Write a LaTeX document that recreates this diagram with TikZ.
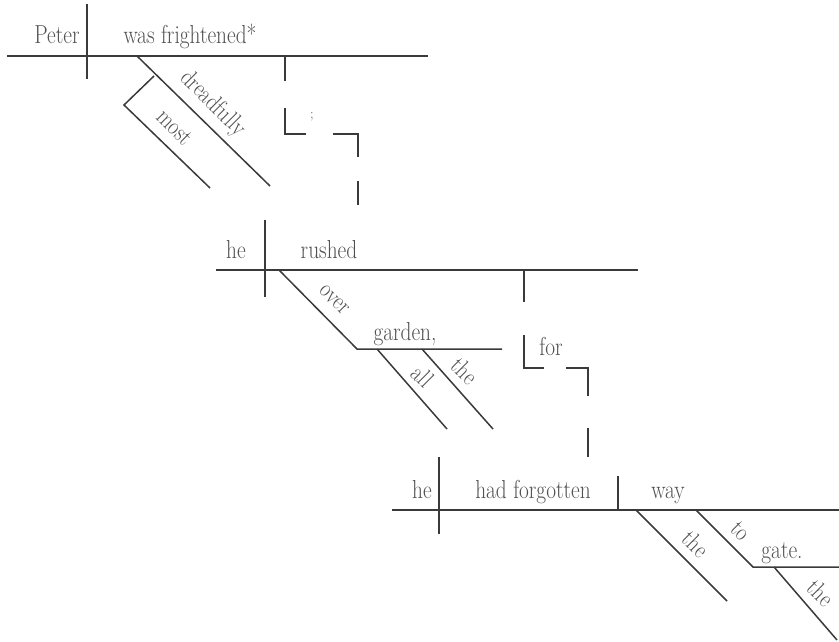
\documentclass[tikz,border=0pt]{standalone}
\usepackage{fontspec}
\setmainfont{Latin Modern Roman}[FakeStretch=0.82]
\definecolor{lncol}{HTML}{3A3A3A}
\definecolor{txtcol}{HTML}{505050}
\begin{document}
\begin{tikzpicture}[x=1pt,y=-1pt,
  ln/.style={line width=1.5pt, draw=lncol, line cap=butt},
  lbl/.style={text=txtcol, font=\fontsize{26}{29}\selectfont, inner sep=0pt, anchor=base},
  dlbl/.style={text=txtcol, font=\fontsize{25}{28}\selectfont, inner sep=0pt, rotate=-45}]
\useasboundingbox (0,0) rectangle (839,642);
% ---------- clause 1
\coordinate (b1l) at (7,56);   \coordinate (b1r) at (428,56);
\coordinate (d1t) at (87,4);   \coordinate (d1b) at (87,79);
\coordinate (dr1) at (137,56); \coordinate (dr2) at (270,186);
\coordinate (mo0) at (154,76); \coordinate (mo1) at (124,105); \coordinate (mo2) at (210,188);
\draw[ln] (b1l) -- (b1r);
\draw[ln] (d1t) -- (d1b);
\draw[ln] (dr1) -- (dr2);
\draw[ln] (mo0) -- (mo1) -- (mo2);
\node[lbl] (peter) at (57,44) {Peter};
\node[lbl] (wasfr) at (190,44) {was frightened*};
\node[dlbl] (dreadfully) at (213,104) {dreadfully};
\node[dlbl] (most) at (175,127) {most};
% ---------- connector 1
\coordinate (c1a) at (285,56);  \coordinate (c1b) at (285,81);
\coordinate (c1c) at (285,108); \coordinate (c1d) at (285,134); \coordinate (c1e) at (306,134);
\coordinate (c1f) at (333,134); \coordinate (c1g) at (358,134); \coordinate (c1h) at (358,157);
\coordinate (c1i) at (358,181); \coordinate (c1j) at (358,205);
\draw[ln] (c1a) -- (c1b);
\draw[ln] (c1c) -- (c1d) -- (c1e);
\draw[ln] (c1f) -- (c1g) -- (c1h);
\draw[ln] (c1i) -- (c1j);
\node[text=txtcol, font=\fontsize{14}{16}\selectfont, inner sep=0pt] (semi) at (312,117) {;};
% ---------- clause 2
\coordinate (b2l) at (216,270); \coordinate (b2r) at (638,270);
\coordinate (d2t) at (265,220); \coordinate (d2b) at (265,297);
\coordinate (ov1) at (279,270); \coordinate (ov2) at (357,349);
\coordinate (ga2) at (502,349);
\coordinate (al1) at (377,349); \coordinate (al2) at (447,429);
\coordinate (th1) at (422,349); \coordinate (th2) at (493,429);
\draw[ln] (b2l) -- (b2r);
\draw[ln] (d2t) -- (d2b);
\draw[ln] (ov1) -- (ov2) -- (ga2);
\draw[ln] (al1) -- (al2);
\draw[ln] (th1) -- (th2);
\node[lbl] (he2) at (236,258) {he};
\node[lbl] (rushed) at (329,258) {rushed};
\node[lbl] (garden) at (405,340) {garden,};
\node[dlbl] (over) at (334,300) {over};
\node[dlbl] (all) at (423,376) {all};
\node[dlbl] (the2) at (465,371) {the};
% ---------- connector 2
\coordinate (c2a) at (524,270); \coordinate (c2b) at (524,302);
\coordinate (c2c) at (524,335); \coordinate (c2d) at (524,368); \coordinate (c2e) at (544,368);
\coordinate (c2f) at (566,368); \coordinate (c2g) at (588,368); \coordinate (c2h) at (588,396);
\coordinate (c2i) at (588,428); \coordinate (c2j) at (588,457);
\draw[ln] (c2a) -- (c2b);
\draw[ln] (c2c) -- (c2d) -- (c2e);
\draw[ln] (c2f) -- (c2g) -- (c2h);
\draw[ln] (c2i) -- (c2j);
\node[lbl] (for) at (551,355) {for};
% ---------- clause 3
\coordinate (b3l) at (392,510); \coordinate (b3r) at (839,510);
\coordinate (d3t) at (439,457); \coordinate (d3b) at (439,534);
\coordinate (o3t) at (618,476); \coordinate (o3b) at (618,510);
\coordinate (tw1) at (636,510); \coordinate (tw2) at (727,601);
\coordinate (to1) at (696,510); \coordinate (to2) at (753,567);
\coordinate (gt2) at (839,567);
\coordinate (tg1) at (774,567); \coordinate (tg2) at (837,640);
\draw[ln] (b3l) -- (b3r);
\draw[ln] (d3t) -- (d3b);
\draw[ln] (o3t) -- (o3b);
\draw[ln] (tw1) -- (tw2);
\draw[ln] (to1) -- (to2) -- (gt2);
\draw[ln] (tg1) -- (tg2);
\node[lbl] (he3) at (422,498) {he};
\node[lbl] (hadf) at (533,498) {had forgotten};
\node[lbl] (way) at (668,498) {way};
\node[lbl] (gate) at (782,558) {gate.};
\node[dlbl] (the3) at (696,544) {the};
\node[dlbl] (to) at (741,531) {to};
\node[dlbl] (the4) at (821,593) {the};
\end{tikzpicture}
\end{document}
